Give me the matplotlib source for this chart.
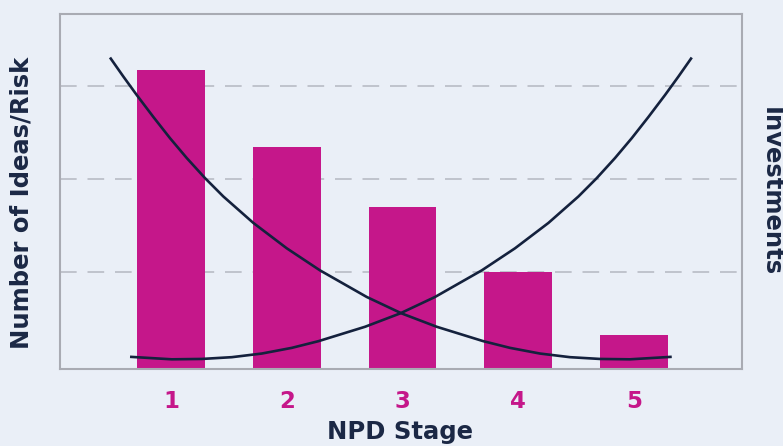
import matplotlib
matplotlib.use("Agg")
import matplotlib.pyplot as plt

# chart data
stages = [1, 2, 3, 4, 5]
stage_labels = ["1", "2", "3", "4", "5"]
ideas = [3.215, 2.387, 1.742, 1.043, 0.366]
grid_levels = [1.043, 2.043, 3.043]

# risk curve (falls with each stage)
risk_x = [0.473, 0.588, 0.704, 0.847, 0.991, 1.136, 1.294, 1.452, 1.711, 2.000,
          2.287, 2.691, 2.993, 3.295, 3.698, 3.929, 4.188, 4.447, 4.706, 4.965,
          5.326]
risk_y = [3.347, 3.143, 2.944, 2.709, 2.481, 2.267, 2.051, 1.854, 1.570, 1.297,
          1.060, 0.774, 0.597, 0.454, 0.299, 0.227, 0.166, 0.127, 0.108, 0.104,
          0.131]

# investment curve (rises with each stage)
inv_x = [0.646, 1.007, 1.266, 1.525, 1.784, 2.043, 2.274, 2.677, 2.979, 3.281,
         3.685, 3.972, 4.261, 4.520, 4.678, 4.836, 4.981, 5.125, 5.268, 5.384,
         5.499]
inv_y = [0.131, 0.104, 0.108, 0.127, 0.166, 0.227, 0.299, 0.454, 0.597, 0.774,
         1.060, 1.297, 1.570, 1.854, 2.051, 2.267, 2.481, 2.709, 2.944, 3.143,
         3.347]

bg = "#EAEFF7"
magenta = "#C5178A"
navy = "#14213D"
frame = "#A9ABB3"
text_col = "#1B2845"

plt.rcParams["font.family"] = ["DejaVu Sans"]

fig = plt.figure(figsize=(7.83, 4.46), dpi=100, facecolor=bg)
ax = fig.add_axes([60 / 783, 77 / 446, 682 / 783, 355.5 / 446])
ax.set_facecolor(bg)

# dashed grid behind the bars
for g in grid_levels:
    ax.axhline(g, color="#B8BCC5", lw=1.2, dashes=(10, 6.5), zorder=0)

ax.bar(stages, ideas, width=0.587, color=magenta, zorder=2)
ax.plot(risk_x, risk_y, color=navy, lw=1.9, zorder=3, solid_capstyle="butt", solid_joinstyle="round")
ax.plot(inv_x, inv_y, color=navy, lw=1.9, zorder=3, solid_capstyle="butt", solid_joinstyle="round")

ax.set_xlim(0.041, 5.933)
ax.set_ylim(0, 3.82)

for s in ax.spines.values():
    s.set_color(frame)
    s.set_linewidth(1.5)

ax.set_yticks([])
ax.set_xticks(stages)
ax.set_xticklabels(stage_labels, color=magenta, fontsize=16.5, fontweight="bold")
ax.tick_params(axis="x", length=0, pad=15)

fig.text(400 / 783, 1 - 432 / 446, "NPD Stage", ha="center", va="center",
         fontsize=17.5, color=text_col, fontweight="bold")
fig.text(22 / 783, 1 - 203 / 446, "Number of Ideas/Risk", ha="center", va="center",
         rotation=90, fontsize=17.5, color=text_col, fontweight="bold")
fig.text(771 / 783, 1 - 192 / 446, "Investments", ha="center", va="center",
         rotation=270, fontsize=17.5, color=text_col, fontweight="bold")

fig.savefig("out.png", dpi=100, facecolor=bg)
